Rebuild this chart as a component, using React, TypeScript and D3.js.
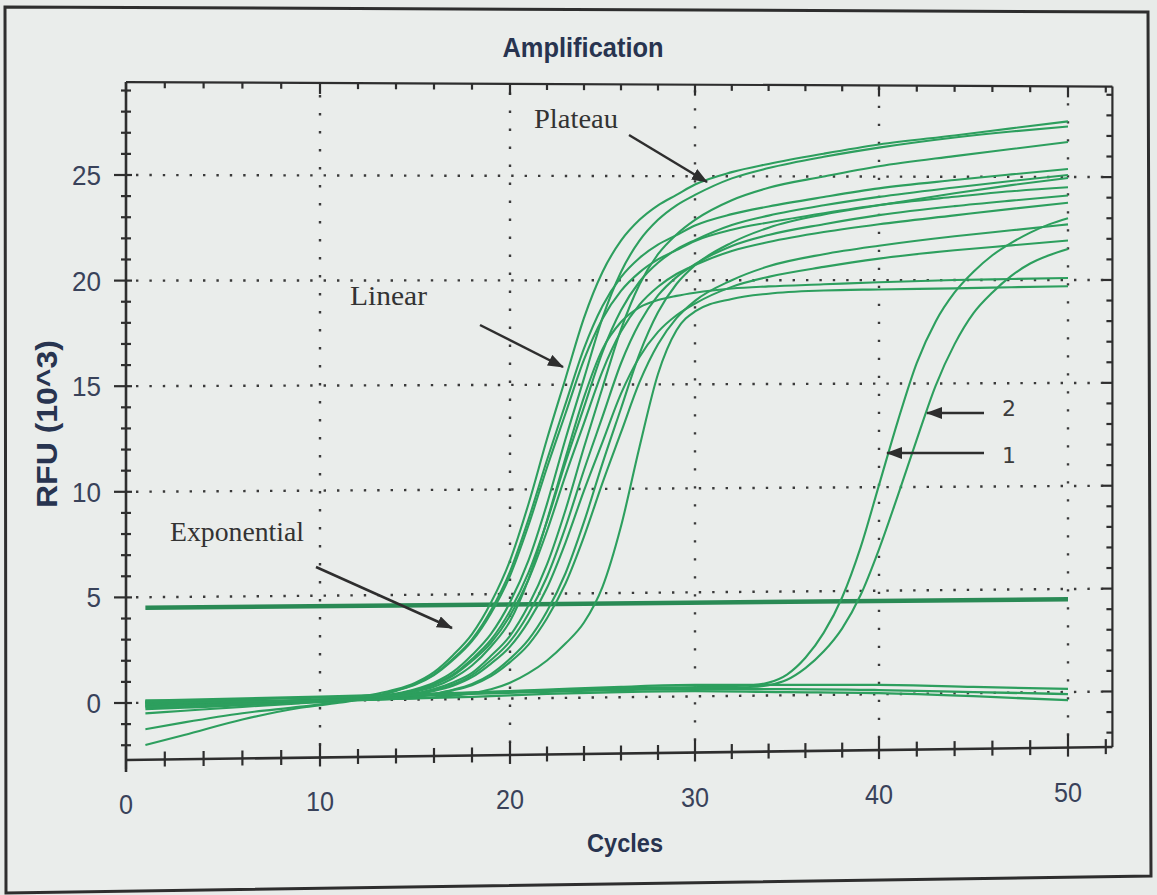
import React from "react";
import * as d3 from "d3";

// ---------- DATA ----------
const xTicks = [0, 10, 20, 30, 40, 50];
const yTicks = [0, 5, 10, 15, 20, 25];

// cycles at which the early-amplifying wells were read
const earlyCycles = [1, 3, 6, 9, 11, 13, 14, 15, 16, 17, 18, 19, 20, 21, 22, 23, 24, 25, 26, 27, 28, 29, 30, 32, 34, 37, 40, 44, 47, 50];
const well01 = [-0.15, -0.1, -0.05, 0.03, 0.1, 0.3, 0.5, 0.8, 1.3, 2.1, 3.1, 4.6, 6.6, 9.3, 12.4, 15.3, 18.2, 20.4, 21.9, 22.9, 23.6, 24.1, 24.6, 25.2, 25.6, 26.1, 26.55, 27.0, 27.35, 27.7];
const well02 = [-0.1, -0.08, -0.04, 0.02, 0.05, 0.15, 0.3, 0.5, 0.8, 1.3, 2.1, 3.1, 4.6, 6.6, 9.3, 12.4, 15.3, 18.2, 20.4, 21.9, 22.9, 23.6, 24.1, 24.9, 25.4, 25.95, 26.4, 26.9, 27.2, 27.45];
const well03 = [-0.2, -0.15, -0.1, -0.02, 0.03, 0.1, 0.15, 0.3, 0.5, 0.8, 1.25, 2.05, 3.0, 4.45, 6.4, 9.0, 12.0, 14.85, 17.65, 19.8, 21.25, 22.2, 22.9, 23.85, 24.45, 25.0, 25.5, 26.0, 26.35, 26.7];
const well04 = [-2.0, -1.55, -0.85, -0.32, -0.11, 0.18, 0.42, 0.74, 1.2, 1.93, 2.85, 4.23, 6.07, 8.56, 11.4, 14.08, 16.74, 18.77, 20.15, 21.07, 21.71, 22.17, 22.63, 23.18, 23.55, 24.01, 24.43, 24.84, 25.12, 25.39];
const well05 = [0.05, 0.02, 0, 0.02, 0.05, 0.14, 0.27, 0.46, 0.73, 1.18, 1.91, 2.82, 4.19, 6.01, 8.46, 11.28, 13.92, 16.56, 18.56, 19.93, 20.84, 21.48, 21.93, 22.66, 23.11, 23.61, 24.02, 24.48, 24.8, 25.1];
const well06 = [-0.05, -0.05, -0.02, 0, 0.02, 0.05, 0.09, 0.14, 0.27, 0.45, 0.72, 1.18, 1.9, 2.81, 4.16, 5.97, 8.42, 11.22, 13.85, 16.47, 18.46, 19.82, 20.72, 21.81, 22.53, 23.17, 23.62, 24.2, 24.6, 24.95];
const well07 = [-1.25, -0.95, -0.55, -0.27, -0.06, 0.22, 0.45, 0.71, 1.16, 1.87, 2.76, 4.09, 5.87, 8.28, 11.04, 13.62, 16.2, 18.16, 19.49, 20.38, 21.0, 21.45, 21.89, 22.43, 22.78, 23.23, 23.63, 24.03, 24.3, 24.5];
const well08 = [0, 0, 0, 0, 0.03, 0.09, 0.13, 0.26, 0.44, 0.7, 1.14, 1.85, 2.73, 4.05, 5.81, 8.18, 10.91, 13.46, 16.02, 17.95, 19.27, 20.15, 20.77, 21.65, 22.18, 22.7, 23.14, 23.58, 23.85, 24.1];
const well09 = [-0.5, -0.4, -0.25, -0.11, -0.02, 0.13, 0.26, 0.43, 0.69, 1.12, 1.81, 2.67, 3.96, 5.68, 8.0, 10.66, 13.16, 15.65, 17.54, 18.83, 19.69, 20.3, 20.73, 21.41, 21.84, 22.32, 22.7, 23.13, 23.45, 23.75];
const well10 = [0.1, 0.08, 0.05, 0.02, 0.02, 0.04, 0.08, 0.12, 0.25, 0.42, 0.66, 1.08, 1.74, 2.57, 3.82, 5.48, 7.72, 10.29, 12.7, 15.11, 16.93, 18.18, 19.01, 20.0, 20.67, 21.25, 21.66, 22.12, 22.41, 22.7];
const well11 = [0, 0, 0, 0, 0.02, 0.08, 0.12, 0.24, 0.4, 0.64, 1.04, 1.68, 2.48, 3.68, 5.28, 7.44, 9.92, 12.24, 14.56, 16.32, 17.52, 18.32, 18.88, 19.68, 20.16, 20.64, 21.04, 21.44, 21.68, 21.92];
const well12 = [0, 0, 0, 0.01, 0.04, 0.11, 0.22, 0.37, 0.6, 1.0, 1.6, 2.5, 3.7, 5.7, 8.5, 11.5, 14.4, 16.7, 18.0, 18.7, 19.05, 19.25, 19.4, 19.6, 19.7, 19.8, 19.9, 20.0, 20.05, 20.1];
const well13 = [0, 0, 0, 0, 0, 0.02, 0.04, 0.06, 0.1, 0.17, 0.28, 0.45, 0.75, 1.2, 1.8, 2.6, 3.6, 5.3, 8.2, 12.0, 15.5, 17.6, 18.5, 19.1, 19.35, 19.5, 19.55, 19.6, 19.65, 19.7];
const earlyWells = [well01, well02, well03, well04, well05, well06, well07, well08, well09, well10, well11, well12, well13];

// late-amplifying wells "1" and "2"
const lateCycles = [1, 10, 20, 28, 31, 33, 34, 35, 36, 37, 38, 39, 40, 41, 42, 43, 44, 45, 46, 47, 48, 49, 50];
const lateWell1 = [0.1, 0.2, 0.35, 0.45, 0.45, 0.5, 0.62, 1.0, 1.8, 3.0, 4.7, 7.1, 10.1, 13.2, 16.0, 18.0, 19.4, 20.4, 21.2, 21.8, 22.3, 22.7, 23.0];
const lateWell2 = [0.05, 0.15, 0.3, 0.4, 0.4, 0.42, 0.5, 0.75, 1.3, 2.1, 3.2, 4.8, 7.0, 9.6, 12.3, 14.9, 16.9, 18.4, 19.4, 20.2, 20.8, 21.2, 21.5];

// non-amplifying wells
const flatCycles = [1, 3, 5, 8, 10, 14, 18, 22, 26, 30, 35, 40, 45, 50];
const flatWell1 = [-0.3, -0.25, -0.2, -0.1, 0.0, 0.15, 0.3, 0.4, 0.5, 0.55, 0.5, 0.45, 0.3, 0.15];
const flatWell2 = [-0.1, -0.1, -0.05, 0.0, 0.05, 0.15, 0.25, 0.3, 0.35, 0.35, 0.3, 0.2, 0.05, -0.1];
const flatWell3 = [-0.2, -0.2, -0.15, -0.1, -0.05, 0.05, 0.1, 0.2, 0.25, 0.25, 0.15, 0.05, -0.15, -0.4];
const flatWells = [flatWell1, flatWell2, flatWell3];

const thresholdValue = 4.5;
const thresholdCycles = [1, 50];

// ---------- LAYOUT ----------
const W = 1157;
const H = 895;
const X_MAX = 52.35;
const Y_MIN = -2.7;
const Y_MAX = 29.4;
const GREEN = "#2d9f5e";
const INK = "#2e2e2e";
const LABEL = "#39425a";
const SANS = "Liberation Sans, Arial, sans-serif";
const SERIF = "Liberation Serif, Times New Roman, serif";

export default function App() {
  const x = d3.scaleLinear().domain(xTicks).range([126, 320, 510, 695, 879, 1068]);
  const yLeft = d3.scaleLinear().domain([0, 25]).range([703, 175]);
  const yRight = d3.scaleLinear().domain([0, 25]).range([692, 177]);
  const tOf = (c: number) => (x(c) - x(0)) / (x(50) - x(0));
  const py = (c: number, v: number) => {
    const t = tOf(c);
    return yLeft(v) * (1 - t) + yRight(v) * t;
  };
  const line = d3
    .line<[number, number]>()
    .x((d) => x(d[0]))
    .y((d) => py(d[0], d[1]))
    .curve(d3.curveMonotoneX);

  const seg = (c0: number, v0: number, c1: number, v1: number) =>
    `M${x(c0)},${py(c0, v0)}L${x(c1)},${py(c1, v1)}`;

  const leftTicks = d3.range(-2, 30, 1);
  const bottomTicks = d3.range(0, 53, 2);

  const arrows = [
    [629, 135, 707, 182],
    [480, 325, 563, 367],
    [316, 567, 452, 628],
    [984, 413, 927, 413],
    [984, 453, 887, 453],
  ];

  const pts = (cs: number[], vs: number[]) => cs.map((c, j) => [c, vs[j]] as [number, number]);

  return (
    <svg width={W} height={H} style={{ position: "absolute", left: 0, top: 0 }}>
      <defs>
        <marker id="ah" viewBox="0 0 16 12" refX="15" refY="6" markerWidth="16" markerHeight="12" markerUnits="userSpaceOnUse" orient="auto">
          <path d="M0,0 L16,6 L0,12 Z" fill={INK} />
        </marker>
      </defs>
      <rect x={0} y={0} width={W} height={H} fill="#e8ebe9" />
      <polygon points="5,7 1148,12 1151,876 6,893" fill="#eaedeb" stroke={INK} strokeWidth={3} />

      {/* title */}
      <text x={583} y={57} textAnchor="middle" fontFamily={SANS} fontWeight="bold" fontSize={28} fill="#283450" textLength={161} lengthAdjust="spacingAndGlyphs">Amplification</text>

      {/* grid */}
      {yTicks.map((v) => (
        <path key={"gy" + v} d={seg(0, v, X_MAX, v)} stroke="#3a3a3a" strokeWidth={2.4} strokeDasharray="2.4 11" strokeDashoffset={-10} fill="none" />
      ))}
      {xTicks.slice(1).map((c) => (
        <path key={"gx" + c} d={seg(c, Y_MIN, c, Y_MAX)} stroke="#3a3a3a" strokeWidth={2.4} strokeDasharray="2.4 15.6" strokeDashoffset={-12} fill="none" />
      ))}

      {/* threshold */}
      <path d={seg(thresholdCycles[0], thresholdValue, thresholdCycles[1], thresholdValue)} stroke="#2a8a55" strokeWidth={4.5} fill="none" />

      {/* flat wells */}
      {flatWells.map((w, i) => (
        <path key={"f" + i} d={line(pts(flatCycles, w)) || ""} stroke={GREEN} strokeWidth={2.3} fill="none" />
      ))}
      {/* early wells */}
      {earlyWells.map((w, i) => (
        <path key={"e" + i} d={line(pts(earlyCycles, w)) || ""} stroke={GREEN} strokeWidth={2.1} fill="none" />
      ))}
      {/* late wells */}
      {[lateWell1, lateWell2].map((w, i) => (
        <path key={"l" + i} d={line(pts(lateCycles, w)) || ""} stroke={GREEN} strokeWidth={2.1} fill="none" />
      ))}

      {/* plot frame */}
      <path d={seg(0, Y_MAX, X_MAX, Y_MAX)} stroke={INK} strokeWidth={2.2} fill="none" />
      <path d={seg(X_MAX, Y_MAX, X_MAX, Y_MIN)} stroke={INK} strokeWidth={2.2} fill="none" />
      <path d={seg(0, Y_MIN, X_MAX, Y_MIN)} stroke={INK} strokeWidth={2.6} fill="none" />
      <path d={`M${x(0)},${py(0, Y_MAX)}L${x(0)},${py(0, Y_MIN) + 12}`} stroke={INK} strokeWidth={2.6} fill="none" />

      {/* left & right ticks */}
      {leftTicks.map((v) => {
        const major = v % 5 === 0;
        const yl = py(0, v);
        const xr = x(X_MAX);
        const yr = py(X_MAX, v);
        return (
          <g key={"lt" + v}>
            <path d={`M${x(0) - (major ? 12 : 5)},${yl}L${x(0) + (major ? 6 : 5)},${yl}`} stroke={INK} strokeWidth={2.2} />
            <path d={`M${xr - (major ? 10 : 6)},${yr}L${xr},${yr}`} stroke={INK} strokeWidth={2.2} />
          </g>
        );
      })}
      {/* bottom & top ticks */}
      {bottomTicks.map((c) => {
        const major = c % 10 === 0;
        const yb = py(c, Y_MIN);
        const yt = py(c, Y_MAX);
        return (
          <g key={"bt" + c}>
            <path d={`M${x(c)},${yb - (major ? 13 : 8)}L${x(c)},${yb + (major ? 9 : 7)}`} stroke={INK} strokeWidth={2.2} />
            <path d={`M${x(c)},${yt}L${x(c)},${yt + (major ? 11 : 6)}`} stroke={INK} strokeWidth={2.2} />
          </g>
        );
      })}

      {/* tick labels */}
      {yTicks.map((v) => (
        <text key={"yl" + v} x={101} y={py(0, v)} dy="0.36em" textAnchor="end" fontFamily={SANS} fontSize={28} fill={LABEL} textLength={String(v).length * 14.5} lengthAdjust="spacingAndGlyphs">{v}</text>
      ))}
      {xTicks.map((c) => (
        <text key={"xl" + c} x={x(c)} y={py(c, Y_MIN) + 54} textAnchor="middle" fontFamily={SANS} fontSize={28} fill={LABEL} textLength={String(c).length * 14} lengthAdjust="spacingAndGlyphs">{c}</text>
      ))}

      {/* axis titles */}
      <text x={625} y={852} textAnchor="middle" fontFamily={SANS} fontWeight="bold" fontSize={26} fill="#283450" textLength={76} lengthAdjust="spacingAndGlyphs">Cycles</text>
      <text transform="translate(57,424) rotate(-90)" textAnchor="middle" fontFamily={SANS} fontWeight="bold" fontSize={29} fill="#283450" textLength={168} lengthAdjust="spacingAndGlyphs">RFU (10^3)</text>

      {/* annotations */}
      {arrows.map((a, i) => (
        <path key={"ar" + i} d={`M${a[0]},${a[1]}L${a[2]},${a[3]}`} stroke={INK} strokeWidth={2.5} markerEnd="url(#ah)" />
      ))}
      <text x={534} y={128} fontFamily={SERIF} fontSize={27} fill="#333" textLength={84} lengthAdjust="spacingAndGlyphs">Plateau</text>
      <text x={350} y={305} fontFamily={SERIF} fontSize={27} fill="#333" textLength={77} lengthAdjust="spacingAndGlyphs">Linear</text>
      <text x={170} y={541} fontFamily={SERIF} fontSize={27} fill="#333" textLength={134} lengthAdjust="spacingAndGlyphs">Exponential</text>
      <text x={1009} y={416} textAnchor="middle" fontFamily="DejaVu Sans, sans-serif" fontSize={22} fill="#3c3c3c">2</text>
      <text x={1009} y={463} textAnchor="middle" fontFamily="DejaVu Sans, sans-serif" fontSize={22} fill="#3c3c3c">1</text>
    </svg>
  );
}
